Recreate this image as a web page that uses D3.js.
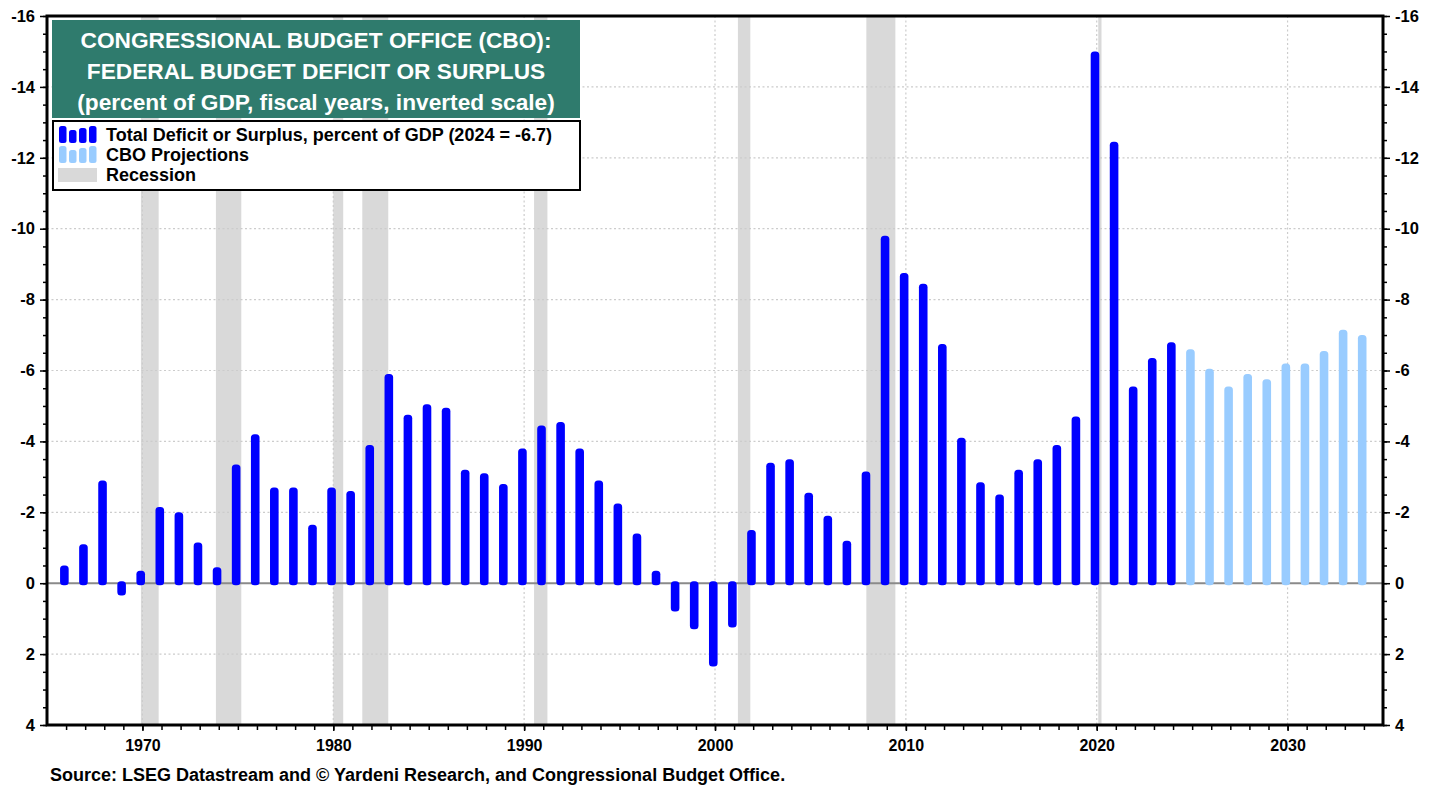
<!DOCTYPE html>
<html>
<head>
<meta charset="utf-8">
<script src="https://cdn.jsdelivr.net/npm/d3@7"></script>
<style>
  body { margin: 0; background: #fff; }
  text { font-family: "Liberation Sans", Arial, sans-serif; font-weight: bold; }
</style>
</head>
<body>
<div id="chart"></div>
<script>
// Fiscal years and deficit (-) / surplus (+), percent of GDP
var actualYears = [1966, 1967, 1968, 1969, 1970, 1971, 1972, 1973, 1974, 1975,
  1976, 1977, 1978, 1979, 1980, 1981, 1982, 1983, 1984, 1985,
  1986, 1987, 1988, 1989, 1990, 1991, 1992, 1993, 1994, 1995,
  1996, 1997, 1998, 1999, 2000, 2001, 2002, 2003, 2004, 2005,
  2006, 2007, 2008, 2009, 2010, 2011, 2012, 2013, 2014, 2015,
  2016, 2017, 2018, 2019, 2020, 2021, 2022, 2023, 2024];
var actualValues = [-0.5, -1.1, -2.9, 0.35, -0.35, -2.15, -2.0, -1.15, -0.45, -3.35,
  -4.2, -2.7, -2.7, -1.65, -2.7, -2.6, -3.9, -5.9, -4.75, -5.05,
  -4.95, -3.2, -3.1, -2.8, -3.8, -4.45, -4.55, -3.8, -2.9, -2.25,
  -1.4, -0.35, 0.8, 1.3, 2.35, 1.25, -1.5, -3.4, -3.5, -2.55,
  -1.9, -1.2, -3.15, -9.8, -8.75, -8.45, -6.75, -4.1, -2.85, -2.5,
  -3.2, -3.5, -3.9, -4.7, -15.0, -12.45, -5.55, -6.35, -6.8];

// CBO projections
var projYears = [2025, 2026, 2027, 2028, 2029, 2030, 2031, 2032, 2033, 2034];
var projValues = [-6.6, -6.05, -5.55, -5.9, -5.75, -6.2, -6.2, -6.55, -7.15, -7.0];

// Recessions (start, end as fractional years)
var recessionStart = [1969.92, 1973.85, 1980.0, 1981.52, 1990.52, 2001.2, 2007.93, 2020.08];
var recessionEnd = [1970.85, 1975.18, 1980.52, 1982.88, 1991.22, 2001.85, 2009.45, 2020.25];

// Tick labels
var yTicks = [-16, -14, -12, -10, -8, -6, -4, -2, 0, 2, 4];
var xTicks = [1970, 1980, 1990, 2000, 2010, 2020, 2030];

var titleLines = ["CONGRESSIONAL BUDGET OFFICE (CBO):",
  "FEDERAL BUDGET DEFICIT OR SURPLUS",
  "(percent of GDP, fiscal years, inverted scale)"];
var legendLabels = ["Total Deficit or Surplus, percent of GDP (2024 = -6.7)",
  "CBO Projections", "Recession"];
var sourceText = "Source: LSEG Datastream and \u00A9 Yardeni Research, and Congressional Budget Office.";

var svgWidth = 1441;
var svgHeight = 789;

var margin = {
  top: 16,
  right: 58,
  bottom: 64,
  left: 47
};

var width = svgWidth - margin.left - margin.right;
var height = svgHeight - margin.top - margin.bottom;

var svg = d3.select("#chart")
  .append("svg")
  .attr("width", svgWidth)
  .attr("height", svgHeight);

var chartGroup = svg.append("g")
  .attr("transform", `translate(${margin.left}, ${margin.top})`);

// scales (inverted: deficits go up)
var xScale = d3.scaleLinear()
  .domain([1965, 2035])
  .range([0, width]);

var yScale = d3.scaleLinear()
  .domain([-16, 4])
  .range([0, height]);

var barWidth = 8.6;
var barOffset = -0.09;

// recession bands
chartGroup.selectAll(".recession")
  .data(d3.range(recessionStart.length))
  .enter()
  .append("rect")
  .attr("class", "recession")
  .attr("x", i => xScale(recessionStart[i]))
  .attr("width", i => xScale(recessionEnd[i]) - xScale(recessionStart[i]))
  .attr("y", 0)
  .attr("height", height)
  .attr("fill", "#d9d9d9");

// dotted grid
chartGroup.selectAll(".hgrid")
  .data(yTicks.filter(d => d !== 0 && d !== -16 && d !== 4))
  .enter()
  .append("line")
  .attr("x1", 0)
  .attr("x2", width)
  .attr("y1", d => yScale(d))
  .attr("y2", d => yScale(d))
  .attr("stroke", "#cccccc")
  .attr("stroke-width", 1.2)
  .attr("stroke-dasharray", "2,2.5");

chartGroup.selectAll(".vgrid")
  .data(xTicks)
  .enter()
  .append("line")
  .attr("x1", d => xScale(d))
  .attr("x2", d => xScale(d))
  .attr("y1", 0)
  .attr("y2", height)
  .attr("stroke", "#cccccc")
  .attr("stroke-width", 1.2)
  .attr("stroke-dasharray", "2,2.5");

// zero line
chartGroup.append("line")
  .attr("x1", 0)
  .attr("x2", width)
  .attr("y1", yScale(0))
  .attr("y2", yScale(0))
  .attr("stroke", "#8a8a8a")
  .attr("stroke-width", 2);

// bars
function drawBars(years, values, color) {
  chartGroup.append("g")
    .selectAll("rect")
    .data(d3.range(years.length))
    .enter()
    .append("rect")
    .attr("x", i => xScale(years[i] + barOffset) - barWidth / 2)
    .attr("width", barWidth)
    .attr("y", i => Math.min(yScale(values[i]), yScale(0)) - (values[i] > 0 ? 2 : 0))
    .attr("height", i => Math.abs(yScale(values[i]) - yScale(0)) + 2)
    .attr("rx", 3.5)
    .attr("fill", color);
}

drawBars(actualYears, actualValues, "#0000ff");
drawBars(projYears, projValues, "#99ccff");

// axes
var yMinor = d3.range(-16, 4.01, 0.5);
var xMinor = d3.range(1966, 2035, 1);

var leftAxis = chartGroup.append("g")
  .call(d3.axisLeft(yScale).tickValues(yTicks).tickSize(7).tickPadding(5).tickFormat(d => String(d)));
var leftMinor = chartGroup.append("g")
  .call(d3.axisLeft(yScale).tickValues(yMinor).tickSize(4).tickFormat(""));

var rightAxis = chartGroup.append("g")
  .attr("transform", `translate(${width}, 0)`)
  .call(d3.axisRight(yScale).tickValues(yTicks).tickSize(7).tickPadding(5).tickFormat(d => String(d)));
var rightMinor = chartGroup.append("g")
  .attr("transform", `translate(${width}, 0)`)
  .call(d3.axisRight(yScale).tickValues(yMinor).tickSize(4).tickFormat(""));

var bottomAxis = chartGroup.append("g")
  .attr("transform", `translate(0, ${height})`)
  .call(d3.axisBottom(xScale).tickValues(xTicks).tickSize(6).tickPadding(9).tickFormat(d => String(d)));
var bottomMinor = chartGroup.append("g")
  .attr("transform", `translate(0, ${height})`)
  .call(d3.axisBottom(xScale).tickValues(xMinor).tickSize(5).tickFormat(""));

chartGroup.selectAll(".domain").remove();
chartGroup.selectAll(".tick line").attr("stroke", "#000").attr("stroke-width", 1.5);
chartGroup.selectAll(".tick text")
  .attr("fill", "#000")
  .style("font-size", "16.5px")
  .style("font-family", "'Liberation Sans', Arial, sans-serif")
  .style("font-weight", "bold");
bottomAxis.selectAll(".tick text").style("font-size", "16px");

// frame
chartGroup.append("rect")
  .attr("x", 0)
  .attr("y", 0)
  .attr("width", width)
  .attr("height", height)
  .attr("fill", "none")
  .attr("stroke", "#000")
  .attr("stroke-width", 3);

// title box
svg.append("rect")
  .attr("x", 52)
  .attr("y", 20)
  .attr("width", 528)
  .attr("height", 98)
  .attr("fill", "#2f7b6d");

svg.selectAll(".title")
  .data(titleLines)
  .enter()
  .append("text")
  .attr("x", 316)
  .attr("y", (d, i) => 48 + i * 31)
  .attr("text-anchor", "middle")
  .attr("fill", "#fff")
  .style("font-size", "22.7px")
  .text(d => d);

// legend
var legend = svg.append("g");

legend.append("rect")
  .attr("x", 53)
  .attr("y", 121)
  .attr("width", 527)
  .attr("height", 69)
  .attr("fill", "#fff")
  .attr("stroke", "#000")
  .attr("stroke-width", 2);

var iconHeights = [17, 13, 15, 17];
var iconColors = ["#0000ff", "#99ccff"];

iconColors.forEach(function(color, row) {
  legend.selectAll(".icon" + row)
    .data(iconHeights)
    .enter()
    .append("rect")
    .attr("x", (d, i) => 59 + i * 10)
    .attr("y", d => 143 + row * 20 - d)
    .attr("width", 7.5)
    .attr("height", d => d)
    .attr("rx", 2.5)
    .attr("fill", color);
});

legend.append("rect")
  .attr("x", 58)
  .attr("y", 168)
  .attr("width", 39)
  .attr("height", 14)
  .attr("fill", "#d9d9d9");

legend.selectAll(".legendText")
  .data(legendLabels)
  .enter()
  .append("text")
  .attr("x", 106)
  .attr("y", (d, i) => 140.5 + i * 20)
  .attr("fill", "#000")
  .style("font-size", "18px")
  .text(d => d);

// source
svg.append("text")
  .attr("x", 50)
  .attr("y", 781)
  .attr("fill", "#000")
  .style("font-size", "18px")
  .text(sourceText);
</script>
</body>
</html>
